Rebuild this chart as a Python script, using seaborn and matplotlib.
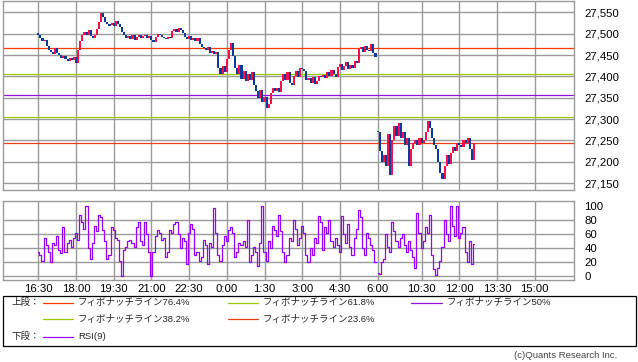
import numpy as np
import pandas as pd
import matplotlib
matplotlib.use("Agg")
import matplotlib.pyplot as plt
import seaborn as sns
from matplotlib.lines import Line2D
from matplotlib.patches import Rectangle

# ---------------- data ----------------
night_open_price = 27502
night_close = [
    27498, 27490, 27482, 27486, 27472, 27462, 27458, 27452, 27466, 27455,
    27450, 27444, 27448, 27440, 27436, 27444, 27438, 27446, 27432, 27462,
    27482, 27496, 27504, 27498, 27510, 27494, 27490, 27498, 27512, 27528,
    27548, 27540, 27528, 27522, 27520, 27525, 27518, 27530, 27524, 27515,
    27505, 27496, 27490, 27494, 27488, 27496, 27486, 27492, 27498, 27490,
    27494, 27497, 27490, 27494, 27486, 27480, 27492, 27500, 27496, 27493,
    27490, 27488, 27492, 27490, 27506, 27512, 27504, 27514, 27508, 27502,
    27492, 27488, 27494, 27486, 27490, 27484, 27490, 27476, 27470, 27466,
    27462, 27468, 27455, 27460, 27452, 27458, 27420, 27405, 27425, 27410,
    27440, 27462, 27478, 27448, 27420, 27405, 27428, 27395, 27412, 27390,
    27405, 27392, 27410, 27380, 27365, 27350, 27368, 27340, 27352, 27325,
    27335, 27362, 27372, 27366, 27374, 27364, 27390, 27405, 27392, 27410,
    27385, 27380, 27400, 27412, 27398, 27420, 27418, 27412, 27392, 27396,
    27385, 27398, 27382, 27390, 27402, 27398, 27404, 27396, 27410, 27400,
    27414, 27405, 27398, 27422, 27430, 27415, 27425, 27434, 27418, 27428,
    27420, 27436, 27432, 27465, 27470, 27458, 27472, 27462, 27460, 27475,
    27456, 27445,
]
day_open_price = 27272
day_close = [
    27270, 27225, 27200, 27215, 27190,
    27265, 27170,
    27250, 27285, 27260, 27290, 27255, 27270,
    27240, 27255, 27190, 27230, 27245,
    27250, 27240, 27255, 27245, 27250,
    27270, 27295, 27280,
    27255, 27240, 27230,
    27200, 27175, 27160, 27190,
    27215, 27195, 27220,
    27235, 27225, 27245, 27240, 27235,
    27250, 27245, 27255,
    27230, 27205, 27243,
]
night_rsi = [
    35, 30, 22, 55, 45, 35, 20, 48, 45, 58,
    38, 33, 70, 35, 48, 52, 42, 55, 62, 52,
    88, 78, 68, 100, 40, 25, 48, 72, 65, 88,
    85, 66, 50, 25, 30, 70, 66, 55, 52, 22,
    0, 38, 42, 50, 52, 48, 42, 70, 78, 50,
    45, 78, 60, 35, 0, 35, 58, 66, 62, 52,
    55, 28, 35, 66, 62, 75, 78, 60, 40, 55,
    50, 18, 62, 75, 68, 30, 35, 22, 28, 52,
    45, 18, 48, 42, 98, 62, 30, 22, 45, 58,
    50, 66, 70, 62, 28, 35, 48, 45, 50, 42,
    80, 20, 30, 42, 35, 15, 48, 100, 35, 22,
    50, 40, 72, 66, 58, 88, 65, 35, 20, 30,
    55, 50, 80, 68, 45, 55, 72, 62, 30, 20,
    40, 30, 55, 48, 86, 78, 38, 70, 62, 80,
    50, 42, 55, 45, 35, 86, 60, 48, 75, 42,
    30, 55, 68, 95, 85, 40, 30, 62, 55, 45,
    38, 20,
]
day_rsi = [
    4, 3, 20, 24, 60, 42, 35, 78, 65, 50,
    42, 55, 60, 45, 35, 50, 38, 28, 12, 90,
    62, 40, 50, 70, 62, 88, 30, 10, 2, 12,
    22, 42, 80, 60, 50, 100, 72, 58, 100, 55,
    62, 70, 35, 20, 50, 18, 46,
]
fib_labels = ["フィボナッチライン76.4%", "フィボナッチライン61.8%", "フィボナッチライン50%",
              "フィボナッチライン38.2%", "フィボナッチライン23.6%"]
fib_levels = [27466, 27405, 27356, 27305, 27244]
fib_colors = ["#ff3a00", "#99cc00", "#9010e0", "#99cc00", "#e8401c"]
rsi_label = "RSI(9)"
time_labels = ["16:30", "18:00", "19:30", "21:00", "22:30", "0:00", "1:30", "3:00",
               "4:30", "6:00", "10:30", "12:00", "13:30", "15:00"]
price_ticks = [27150, 27200, 27250, 27300, 27350, 27400, 27450, 27500, 27550]
rsi_ticks = [0, 20, 40, 60, 80, 100]

# ---------------- helpers ----------------
def axis_pos(label):
    h, m = map(int, label.split(":"))
    mins = h * 60 + m
    if 525 <= mins <= 915:          # day session 8:45-15:15
        return 810 + (mins - 525)
    return (mins - 990) % 1440      # night session from 16:30

t_night = np.arange(len(night_close)) * 5.0
t_day = 810 + np.arange(len(day_close)) * 5.0

rows = []
for sess, op0, closes, rsis, ts in [("night", night_open_price, night_close, night_rsi, t_night),
                                     ("day", day_open_price, day_close, day_rsi, t_day)]:
    opens = [op0] + list(closes[:-1])
    for t, o, c, r in zip(ts, opens, closes, rsis):
        rows.append(dict(session=sess, t=t, open=o, close=c, rsi=r))
df = pd.DataFrame(rows)

# ---------------- style ----------------
sns.set_theme(style="white")
plt.rcParams["font.family"] = ["Liberation Sans", "Noto Sans CJK JP", "DejaVu Sans"]
GRID = "#9a9a9a"

fig = plt.figure(figsize=(6.38, 3.62), dpi=100)
W, H = 638, 362

def ax_rect(x0, y0, x1, y1):
    return [x0 / W, 1 - y1 / H, (x1 - x0) / W, (y1 - y0) / H]

ax1 = fig.add_axes(ax_rect(3.3, 0.5, 574.3, 190))
ax2 = fig.add_axes(ax_rect(3.3, 201.3, 574.3, 280))

xpos = [axis_pos(l) for l in time_labels]
xmin, xmax = -83.5, 1279.5

for ax in (ax1, ax2):
    ax.set_xlim(xmin, xmax)
    ax.set_xticks(xpos)
    for s in ax.spines.values():
        s.set_color(GRID)
        s.set_linewidth(1.0)
    ax.grid(True, color=GRID, linewidth=1.0)
    ax.set_axisbelow(True)
    ax.yaxis.tick_right()
    ax.tick_params(axis="both", length=0, labelsize=8.2, colors="black")
    ax.tick_params(axis="y", pad=7.2)
    ax.set_facecolor("white")

# --- price panel ---
ax1.set_ylim(27134, 27578)
ax1.set_yticks(price_ticks)
ax1.set_yticklabels([f"{v:,}" for v in price_ticks])
ax1.set_xticklabels([])

for lvl, col in zip(fib_levels, fib_colors):
    sns.lineplot(x=[xmin, xmax], y=[lvl, lvl], ax=ax1, color=col, linewidth=0.9, zorder=2)

body = (df["close"] - df["open"]).to_numpy(dtype=float)
up = body >= 0
h = np.where(np.abs(body) < 3, np.where(up, 3, -3), body)
colors = np.where(up, "#f7104a", "#0a3a9c")
ax1.bar(df["t"], h, bottom=df["open"], width=5.0, color=colors, linewidth=0, zorder=3)

# --- RSI panel ---
ax2.set_ylim(-5.3, 107.1)
ax2.set_yticks(rsi_ticks)
ax2.set_yticklabels([str(v) for v in rsi_ticks])
ax2.get_ygridlines()[-1].set_visible(False)
ax2.set_xticklabels(time_labels)
ax2.tick_params(axis="x", pad=3)
for sess in ["night", "day"]:
    d = df[df["session"] == sess]
    sns.lineplot(data=d, x="t", y="rsi", ax=ax2, color="#9900ff", linewidth=0.9,
                 drawstyle="steps-mid", zorder=3)
ax2.set_xlabel("")
ax2.set_ylabel("")
ax1.set_xlabel("")
ax1.set_ylabel("")

# --- legend box ---
fig.patches.append(Rectangle((3.3 / W, 1 - 346.3 / H), (636 - 3.3) / W, (346.3 - 296) / H,
                             transform=fig.transFigure, fill=False, edgecolor="black",
                             linewidth=0.9))

def fy(y):
    return 1 - y / H

LFS = 6.8
rows_y = [302.7, 319.3, 336.7]
fig.text(12 / W, fy(rows_y[0]), "上段：", fontsize=LFS, va="center", ha="left")
fig.text(12 / W, fy(rows_y[2]), "下段：", fontsize=LFS, va="center", ha="left")
cols = [(43, 78), (227.5, 262.5), (411.5, 447)]
slots = [(0, 0), (0, 1), (0, 2), (1, 0), (1, 1)]
for (r, c), lab, col in zip(slots, fib_labels, fib_colors):
    lx, tx = cols[c]
    y = fy(rows_y[r])
    fig.add_artist(Line2D([lx / W, (lx + 30) / W], [y, y], color=col, linewidth=0.9,
                          transform=fig.transFigure))
    fig.text(tx / W, y, lab, fontsize=LFS, va="center", ha="left")
y = fy(rows_y[2])
fig.add_artist(Line2D([43 / W, 73 / W], [y, y], color="#9900ff", linewidth=0.9,
                      transform=fig.transFigure))
fig.text(78 / W, y, rsi_label, fontsize=LFS, va="center", ha="left")

fig.text(617 / W, fy(356), "(c)Quants Research Inc.", fontsize=6.8, va="center", ha="right",
         color="#444444")

fig.savefig("out.png", dpi=100, facecolor="white")
